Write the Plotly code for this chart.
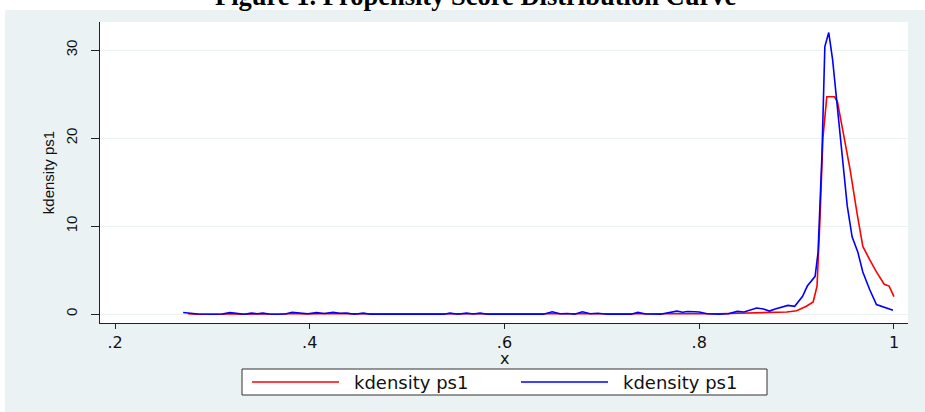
import plotly.graph_objects as go

# ---- data ----
blue_x = [0.270, 0.275, 0.285, 0.300, 0.310, 0.318, 0.326, 0.333, 0.340, 0.346, 0.352, 0.358,
          0.365, 0.375, 0.382, 0.390, 0.398, 0.407, 0.415, 0.424, 0.431, 0.438, 0.446, 0.455,
          0.462, 0.500, 0.538, 0.544, 0.552, 0.561, 0.568, 0.575, 0.582, 0.640, 0.649, 0.657,
          0.665, 0.672, 0.680, 0.688, 0.696, 0.705, 0.730, 0.737, 0.745, 0.760, 0.770, 0.777,
          0.783, 0.788, 0.795, 0.800, 0.808, 0.820, 0.830, 0.839, 0.846, 0.852, 0.859, 0.866,
          0.872, 0.878, 0.884, 0.891, 0.898, 0.906, 0.911, 0.919, 0.922, 0.926, 0.929, 0.933,
          0.937, 0.942, 0.947, 0.952, 0.957, 0.963, 0.968, 0.975, 0.982, 0.990, 0.999]
blue_y = [0.20, 0.12, 0.02, 0.00, 0.02, 0.18, 0.05, 0.00, 0.12, 0.05, 0.12, 0.02,
          0.00, 0.02, 0.22, 0.15, 0.05, 0.18, 0.08, 0.22, 0.10, 0.12, 0.00, 0.12,
          0.00, 0.00, 0.00, 0.12, 0.00, 0.12, 0.02, 0.12, 0.00, 0.00, 0.28, 0.05,
          0.08, 0.00, 0.28, 0.05, 0.10, 0.00, 0.00, 0.20, 0.02, 0.00, 0.20, 0.35,
          0.22, 0.30, 0.28, 0.25, 0.05, 0.00, 0.05, 0.32, 0.25, 0.45, 0.70, 0.60,
          0.35, 0.60, 0.80, 1.00, 0.90, 2.00, 3.20, 4.30, 7.00, 18.0, 30.4, 32.0,
          28.9, 23.6, 17.6, 12.3, 8.8, 7.0, 4.8, 2.8, 1.1, 0.8, 0.45]

red_x = [0.275, 0.285, 0.310, 0.318, 0.330, 0.340, 0.352, 0.365, 0.382, 0.395, 0.407, 0.424,
         0.440, 0.455, 0.465, 0.540, 0.545, 0.560, 0.575, 0.585, 0.650, 0.700, 0.740, 0.780,
         0.800, 0.820, 0.840, 0.870, 0.890, 0.900, 0.910, 0.917, 0.921, 0.924, 0.927, 0.931,
         0.939, 0.942, 0.947, 0.955, 0.962, 0.968, 0.975, 0.982, 0.990, 0.995, 1.000]
red_y = [0.05, 0.00, 0.00, 0.06, 0.00, 0.05, 0.05, 0.00, 0.08, 0.02, 0.06, 0.08,
         0.05, 0.05, 0.00, 0.00, 0.05, 0.05, 0.05, 0.00, 0.02, 0.02, 0.03, 0.08,
         0.08, 0.05, 0.10, 0.15, 0.25, 0.40, 0.90, 1.40, 3.20, 10.8, 20.0, 24.7,
         24.7, 24.1, 21.0, 16.4, 11.5, 7.7, 6.2, 4.8, 3.4, 3.2, 2.0]

x_tickvals = [0.2, 0.4, 0.6, 0.8, 1.0]
x_ticktext = [".2", ".4", ".6", ".8", "1"]
y_tickvals = [0, 10, 20, 30]
y_ticktext = ["0", "10", "20", "30"]
series_names = ["kdensity ps1", "kdensity ps1"]
x_title = "x"
y_title = "kdensity ps1"
title_text = "Figure 1. Propensity Score Distribution Curve"

# ---- layout geometry (page pixels; body margin is removed below) ----
W, H = 925, 412
PL, PR, PT, PB = 100, 908, 22, 323          # plot area in page pixels
L, R, T, B = PL, W - PR, PT, H - PB
pw, ph = PR - PL, PB - PT


def px(xp):
    return (xp - PL) / pw


def py(yp):
    return (PB - yp) / ph


BG = "#EAF2F3"
INK = "#111111"

fig = go.Figure()
fig.add_trace(go.Scatter(x=red_x, y=red_y, mode="lines", name=series_names[0],
                         line=dict(color="#FF0000", width=1.6), showlegend=False))
fig.add_trace(go.Scatter(x=blue_x, y=blue_y, mode="lines", name=series_names[1],
                         line=dict(color="#0000FF", width=1.6), showlegend=False))

fig.update_layout(
    width=W, height=H,
    margin=dict(l=L, r=R, t=T, b=B, autoexpand=False),
    paper_bgcolor=BG, plot_bgcolor="white",
    showlegend=False,
    xaxis=dict(range=[0.1846, 1.0144], tickvals=x_tickvals, ticktext=x_ticktext,
               showgrid=False, zeroline=False, showline=True, linecolor="#222",
               linewidth=1, ticks="outside", ticklen=5, tickcolor="#222",
               tickfont=dict(family="DejaVu Sans", size=16, color=INK)),
    yaxis=dict(range=[-1.0, 33.2], tickvals=y_tickvals, ticktext=y_ticktext,
               showgrid=True, gridcolor=BG, gridwidth=1, zeroline=False,
               showline=True, linecolor="#222", linewidth=1, ticks="outside",
               ticklen=8, tickcolor="#222", tickangle=-90, ticklabelstandoff=8,
               tickfont=dict(family="Liberation Sans", size=15, color=INK),
               title=dict(text=y_title,
                          font=dict(family="Liberation Sans", size=15, color=INK),
                          standoff=4)),
)

shapes = [
    # white strips outside the grey chart panel
    dict(type="rect", xref="paper", yref="paper", x0=px(-5), x1=px(930), y0=py(10), y1=py(-5),
         fillcolor="white", line=dict(width=0), layer="below"),
    dict(type="rect", xref="paper", yref="paper", x0=px(-5), x1=px(5), y0=py(417), y1=py(-5),
         fillcolor="white", line=dict(width=0), layer="below"),
    # legend box
    dict(type="rect", xref="paper", yref="paper", x0=px(242), x1=px(767), y0=py(395), y1=py(369),
         fillcolor="white", line=dict(color="#333", width=1)),
    dict(type="line", xref="paper", yref="paper", x0=px(252), x1=px(339), y0=py(382), y1=py(382),
         line=dict(color="#FF0000", width=1.6)),
    dict(type="line", xref="paper", yref="paper", x0=px(521), x1=px(608), y0=py(382), y1=py(382),
         line=dict(color="#0000FF", width=1.6)),
]
fig.update_layout(shapes=shapes)

annotations = [
    dict(text=series_names[0], xref="paper", yref="paper", x=px(352), y=py(382),
         xanchor="left", yanchor="middle", showarrow=False,
         font=dict(family="DejaVu Sans", size=18, color=INK)),
    dict(text=series_names[1], xref="paper", yref="paper", x=px(621), y=py(382),
         xanchor="left", yanchor="middle", showarrow=False,
         font=dict(family="DejaVu Sans", size=18, color=INK)),
    dict(text=x_title, xref="paper", yref="paper", x=px(504), y=py(358),
         xanchor="center", yanchor="middle", showarrow=False,
         font=dict(family="DejaVu Sans", size=16, color=INK)),
    dict(text="<b>" + title_text + "</b>", xref="paper", yref="paper", x=px(475), y=py(13),
         xanchor="center", yanchor="bottom", showarrow=False,
         font=dict(family="Liberation Serif", size=26.5, color="black")),
]
fig.update_layout(annotations=annotations)

fig.write_html(
    "out.html",
    config={"displayModeBar": False},
    post_script="document.body.style.margin='0';document.body.style.overflow='hidden';",
)
